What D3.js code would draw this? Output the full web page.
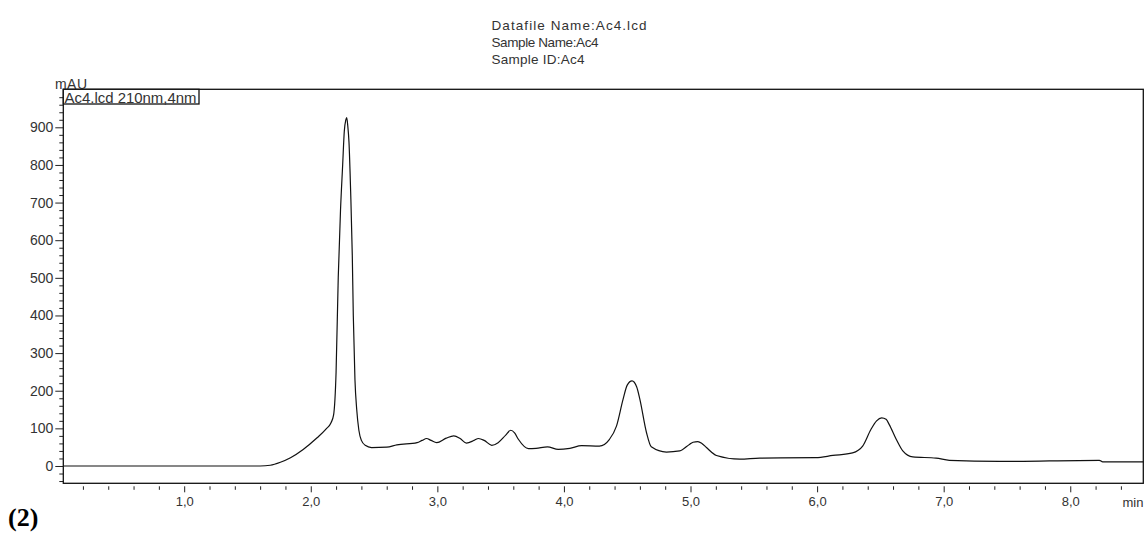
<!DOCTYPE html>
<html>
<head>
<meta charset="utf-8">
<script src="https://cdn.jsdelivr.net/npm/d3@7"></script>
<style>
  body { margin: 0; background: #fff; }
  text { font-family: 'Liberation Sans', Arial, sans-serif; fill: #333; }
</style>
</head>
<body>
<div id="wrapper"></div>
<script>
// chromatogram (time in min, signal in mAU)
const times = [
  0.045, 1.6, 1.68, 1.76, 1.84, 1.94, 2.05, 2.12, 2.16, 2.18, 2.2, 2.217, 2.235,
  2.252, 2.265, 2.277, 2.284, 2.292, 2.302, 2.315, 2.328, 2.336, 2.349, 2.363,
  2.38, 2.4, 2.43, 2.48, 2.6, 2.68, 2.84, 2.88, 2.915, 2.95, 2.995, 3.07, 3.13,
  3.18, 3.23, 3.29, 3.325, 3.37, 3.43, 3.48, 3.54, 3.58, 3.61, 3.64, 3.72, 3.78,
  3.87, 3.955, 4.047, 4.14, 4.28, 4.36, 4.415, 4.467, 4.5, 4.538, 4.575, 4.6,
  4.652, 4.69, 4.81, 4.915, 4.994, 5.02, 5.058, 5.09, 5.126, 5.205, 5.39, 5.546,
  5.99, 6.125, 6.28, 6.36, 6.425, 6.47, 6.51, 6.545, 6.57, 6.625, 6.677, 6.756,
  6.94, 7.045, 7.44, 8.23, 8.256, 8.577
];
const signal = [
  0, 0, 2, 10, 22, 44, 75, 98, 115, 135, 250, 500, 680,
  800, 890, 920, 926, 905, 860, 730, 560, 400, 230, 150,
  95, 68, 55, 49, 50, 56, 62, 68, 73, 68, 62, 74, 80,
  73, 61, 68, 73, 68, 55, 62, 82, 95, 88, 71, 46, 47,
  51, 44, 47, 54, 53, 71, 106, 177, 215, 226, 210, 177,
  89, 51, 37, 40, 58, 63, 65, 60, 49, 28, 18, 21,
  22, 28, 35, 53, 97, 120, 128, 124, 110, 71, 40, 24,
  21, 15, 12, 15, 11, 11
];

const xMajorTicks = [1, 2, 3, 4, 5, 6, 7, 8];
const xTickLabels = ['1,0', '2,0', '3,0', '4,0', '5,0', '6,0', '7,0', '8,0'];
const yMajorTicks = [0, 100, 200, 300, 400, 500, 600, 700, 800, 900];
const titleLines = ['Datafile Name:Ac4.lcd', 'Sample Name:Ac4', 'Sample ID:Ac4'];
const legendLabel = 'Ac4.lcd 210nm,4nm';

const dataset = times.map((t, i) => [t, signal[i]]);
const xAccessor = (d) => d[0];
const yAccessor = (d) => d[1];

let dimensions = {
  width: 1148,
  height: 534,
  margin: { top: 89.3, right: 4.7, bottom: 50.7, left: 63.3 },
};
dimensions.boundedWidth =
  dimensions.width - dimensions.margin.left - dimensions.margin.right;
dimensions.boundedHeight =
  dimensions.height - dimensions.margin.top - dimensions.margin.bottom;

const xScale = d3
  .scaleLinear()
  .domain([0.045, 8.577])
  .range([0, dimensions.boundedWidth]);

const yScale = d3
  .scaleLinear()
  .domain([-46, 1001])
  .range([dimensions.boundedHeight, 0]);

const wrapper = d3
  .select('#wrapper')
  .append('svg')
  .attr('width', dimensions.width)
  .attr('height', dimensions.height);

// header
wrapper
  .append('g')
  .selectAll('text')
  .data(titleLines)
  .enter()
  .append('text')
  .attr('x', 491.5)
  .attr('y', (d, i) => 30 + i * 16.8)
  .attr('textLength', (d, i) => [155, 107, 93][i])
  .attr('lengthAdjust', 'spacing')
  .style('font-size', '13.5px')
  .text((d) => d);

const bounds = wrapper
  .append('g')
  .attr(
    'transform',
    `translate(${dimensions.margin.left}, ${dimensions.margin.top})`
  );

// y axis, majors and minors
const yMinor = d3.range(-40, 1001, 20).filter((v) => v % 100 !== 0);
bounds
  .append('g')
  .call(d3.axisLeft(yScale).tickValues(yMinor).tickSize(4).tickFormat(''))
  .call((g) => g.select('.domain').remove());

const yAxis = bounds
  .append('g')
  .call(d3.axisLeft(yScale).tickValues(yMajorTicks).tickSize(8).tickPadding(2))
  .call((g) => g.select('.domain').remove());
yAxis.selectAll('text').style('font-size', '14px').attr('fill', '#333');

// x axis, ticks sit a little below the frame
const xMinor = d3.range(0.2, 8.5, 0.2).filter((v) => Math.abs(v - Math.round(v)) > 0.01);
bounds
  .append('g')
  .attr('transform', `translate(0, ${dimensions.boundedHeight + 3})`)
  .call(d3.axisBottom(xScale).tickValues(xMinor).tickSize(3.5).tickFormat(''))
  .call((g) => g.select('.domain').remove());

const xAxis = bounds
  .append('g')
  .attr('transform', `translate(0, ${dimensions.boundedHeight + 3})`)
  .call(
    d3
      .axisBottom(xScale)
      .tickValues(xMajorTicks)
      .tickSize(6)
      .tickPadding(4)
      .tickFormat((d, i) => xTickLabels[i])
  )
  .call((g) => g.select('.domain').remove());
xAxis.selectAll('text').style('font-size', '13px').attr('fill', '#333');
bounds.selectAll('.tick line').attr('stroke', '#222');

// frame
bounds
  .append('rect')
  .attr('width', dimensions.boundedWidth)
  .attr('height', dimensions.boundedHeight)
  .attr('fill', 'none')
  .attr('stroke', '#111')
  .attr('stroke-width', 1.3);

// trace
const line = d3
  .line()
  .x((d) => xScale(xAccessor(d)))
  .y((d) => yScale(yAccessor(d)))
  .curve(d3.curveMonotoneX);

bounds
  .append('path')
  .datum(dataset)
  .attr('d', line)
  .attr('fill', 'none')
  .attr('stroke', '#111')
  .attr('stroke-width', 1.2);

// unit labels
wrapper
  .append('text')
  .attr('x', 55)
  .attr('y', 88.5)
  .attr('textLength', 32)
  .style('font-size', '14px')
  .text('mAU');

wrapper
  .append('text')
  .attr('x', 1122.5)
  .attr('y', 507)
  .style('font-size', '13px')
  .text('min');

// legend box
const legend = wrapper.append('g');
legend
  .append('rect')
  .attr('x', 63.3)
  .attr('y', 89.3)
  .attr('width', 135.7)
  .attr('height', 14.7)
  .attr('fill', '#fff')
  .attr('stroke', '#111')
  .attr('stroke-width', 1.3);
legend
  .append('text')
  .attr('x', 64.5)
  .attr('y', 102.5)
  .attr('textLength', 132)
  .attr('lengthAdjust', 'spacingAndGlyphs')
  .style('font-size', '14.5px')
  .attr('fill', '#111')
  .text(legendLabel);

// panel tag
wrapper
  .append('text')
  .attr('x', 8)
  .attr('y', 526)
  .style('font-family', "'Liberation Serif', 'Times New Roman', serif")
  .style('font-size', '26px')
  .style('font-weight', 'bold')
  .style('fill', '#000')
  .text('(2)');
</script>
</body>
</html>
